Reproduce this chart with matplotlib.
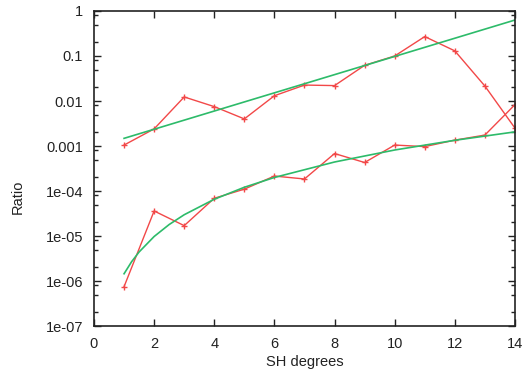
import numpy as np
import matplotlib
matplotlib.use("Agg")
from matplotlib import pyplot as plt
from matplotlib.ticker import LogLocator, FixedLocator, FuncFormatter

plt.rcParams['font.family'] = ['Liberation Sans', 'DejaVu Sans']

# measured ratios per SH degree
degrees = [1, 2, 3, 4, 5, 6, 7, 8, 9, 10, 11, 12, 13, 14]
ratio_high = [0.00105, 0.0024, 0.0123, 0.0075, 0.0040, 0.0131, 0.0226,
              0.022, 0.062, 0.10, 0.27, 0.13, 0.0215, 0.0025]
ratio_low = [7.5e-7, 3.6e-5, 1.7e-5, 6.9e-5, 1.1e-4, 2.15e-4, 1.85e-4,
             6.8e-4, 4.3e-4, 1.05e-3, 9.7e-4, 1.35e-3, 1.75e-3, 8.3e-3]

# fitted curves
fit_high_x = [1, 14]
fit_high_y = [0.00148, 0.63]
fit_low_x = [1, 1.25, 1.5, 2, 2.5, 3, 4, 5, 6, 8, 10, 12, 14]
fit_low_y = [1.45e-6, 2.68e-6, 4.42e-6, 9.75e-6, 1.8e-5, 2.97e-5, 6.56e-5,
             1.21e-4, 2.0e-4, 4.41e-4, 8.15e-4, 1.34e-3, 2.06e-3]

red = '#f24848'
green = '#2dbb6a'
ink = '#222222'

fig = plt.figure(figsize=(5.26, 3.74), dpi=100)
ax = fig.add_axes([0.1787, 0.1283, 0.8003, 0.8423])

ax.plot(degrees, ratio_high, color=red, lw=1.0, marker='+', ms=5, mew=1.0)
ax.plot(fit_high_x, fit_high_y, color=green, lw=1.2)
ax.plot(degrees, ratio_low, color=red, lw=1.0, marker='+', ms=5, mew=1.0)
ax.plot(fit_low_x, fit_low_y, color=green, lw=1.2)

ax.set_yscale('log')
ax.set_xlim(0, 14)
ax.set_ylim(1e-7, 1)
ax.set_xticks([0, 2, 4, 6, 8, 10, 12, 14])
ax.yaxis.set_major_locator(FixedLocator([10.0**k for k in range(-7, 1)]))
ax.yaxis.set_minor_locator(LogLocator(base=10, subs=[2, 5, 8]))


def fmt(v, pos):
    if v >= 0.001:
        return '%g' % v
    return '1e-%02d' % int(round(-np.log10(v)))


ax.yaxis.set_major_formatter(FuncFormatter(fmt))
ax.yaxis.set_minor_formatter(FuncFormatter(lambda v, p: ''))

ax.tick_params(which='both', direction='in', top=True, right=True,
               labelsize=10.5, colors=ink, labelcolor=ink, pad=8)
ax.tick_params(which='major', length=5, width=1)
ax.tick_params(which='minor', length=3, width=1)
for s in ax.spines.values():
    s.set_linewidth(1.2)
    s.set_color(ink)

ax.set_xlabel('SH degrees', fontsize=10.5, color=ink)
ax.xaxis.set_label_coords(0.5, -0.093)
ax.set_ylabel('Ratio', fontsize=10.5, color=ink, va='center')
ax.yaxis.set_label_coords(-0.181, 0.41)

fig.savefig('out.png', dpi=100)
